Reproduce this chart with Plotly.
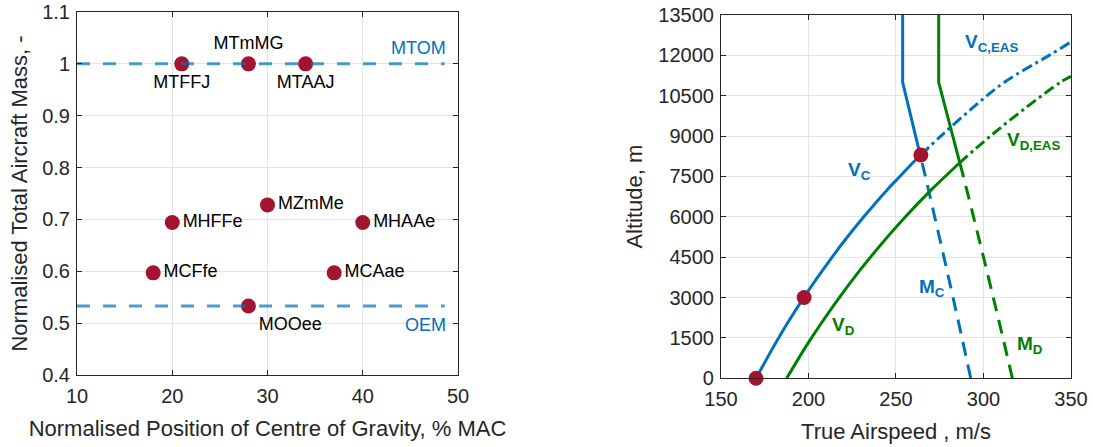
import plotly.graph_objects as go

# ---------------- Left chart data ----------------
cg_pos = [21, 28, 34, 30, 20, 40, 18, 37, 28]
mass_norm = [1.0, 1.0, 1.0, 0.728, 0.694, 0.694, 0.597, 0.597, 0.533]
point_names = ["MTFFJ", "MTmMG", "MTAAJ", "MZmMe", "MHFFe", "MHAAe", "MCFfe", "MCAae", "MOOee"]
name_pos = ["bottom center", "top center", "bottom center", "middle right", "middle right",
            "middle right", "middle right", "middle right", "bottom right"]
mtom_level = 1.0
oem_level = 0.533
ref_line_x = [10, 48.6]

# ---------------- Right chart data ----------------
# V_C (constant EAS) below crossover, TAS in m/s vs altitude in m
vc_alt = [0, 1000, 1500, 2000, 3000, 4000, 4500, 5000, 6000, 7000, 7500, 8000, 8300]
vc_tas = [170, 178.5, 182.9, 187.5, 197.3, 207.9, 213.5, 219.2, 231.6, 244.9, 252.2, 259.5, 264.2]
# V_C,EAS continuation above crossover
vceas_alt = [8300, 9000, 10000, 11000, 12000, 12500]
vceas_tas = [264.2, 275.6, 292.9, 311.9, 337.5, 350]
# M_C line
mc_alt_hi = [8300, 9000, 10000, 11000, 13500]
mc_tas_hi = [263.8, 261.3, 257.6, 253.8, 253.8]
mc_alt_lo = [0, 1500, 3000, 4500, 6000, 7500, 8300]
mc_tas_lo = [292.7, 287.7, 282.6, 277.4, 272.1, 266.8, 263.8]
# V_D
vd_alt = [0, 1000, 1500, 2000, 3000, 4000, 4500, 5000, 6000, 7000, 7500, 8000]
vd_tas = [187.5, 196.8, 201.7, 206.8, 217.6, 229.2, 235.4, 241.8, 255.4, 270.1, 278.1, 286.2]
vdeas_alt = [8000, 9000, 10000, 11000, 11220]
vdeas_tas = [286.2, 303.9, 323.1, 344.0, 350]
# M_D line
md_alt_hi = [8000, 9000, 10000, 11000, 13500]
md_tas_hi = [286.5, 282.5, 278.5, 274.4, 274.4]
md_alt_lo = [0, 1500, 3000, 4500, 6000, 7500, 8000]
md_tas_lo = [316.5, 311.1, 305.6, 300.0, 294.3, 288.5, 286.5]
# highlighted points
pt_tas = [170, 197.5, 264.2]
pt_alt = [0, 3000, 8300]

alt_ticks = [0, 1500, 3000, 4500, 6000, 7500, 9000, 10500, 12000, 13500]
tas_ticks = [150, 200, 250, 300, 350]
cg_ticks = [10, 20, 30, 40, 50]
mass_ticks = [0.4, 0.5, 0.6, 0.7, 0.8, 0.9, 1.0, 1.1]
mass_ticktext = ["0.4", "0.5", "0.6", "0.7", "0.8", "0.9", "1", "1.1"]

BLUE = "#0072BD"
GREEN = "#008000"
RED = "#A2142F"
LIGHTBLUE = "rgba(0,114,189,0.7)"
AX = "#262626"
GRID = "#e3e3e3"
FONT = "Liberation Sans, Arial, Helvetica, sans-serif"

fig = go.Figure()

# left markers
fig.add_trace(go.Scatter(
    x=cg_pos, y=mass_norm, mode="markers+text", text=point_names, textposition=name_pos,
    textfont=dict(size=18, color="black", family=FONT),
    marker=dict(size=15, color=RED), xaxis="x", yaxis="y", showlegend=False, cliponaxis=False))
# reference lines
for lvl in [mtom_level, oem_level]:
    fig.add_trace(go.Scatter(
        x=ref_line_x, y=[lvl, lvl], mode="lines",
        line=dict(color=LIGHTBLUE, width=3, dash="13px,13px"),
        xaxis="x", yaxis="y", showlegend=False))


def add_line(x, y, color, dash, shape="spline"):
    fig.add_trace(go.Scatter(x=x, y=y, mode="lines",
                             line=dict(color=color, width=3, dash=dash, shape=shape),
                             xaxis="x2", yaxis="y2", showlegend=False, cliponaxis=True))


add_line(vc_tas, vc_alt, BLUE, "solid")
add_line(vceas_tas, vceas_alt, BLUE, "11px,4px,3px,4px")
add_line(mc_tas_hi, mc_alt_hi, BLUE, "solid", "linear")
add_line(mc_tas_lo, mc_alt_lo, BLUE, "14px,9px")
add_line(vd_tas, vd_alt, GREEN, "solid")
add_line(vdeas_tas, vdeas_alt, GREEN, "11px,4px,3px,4px")
add_line(md_tas_hi, md_alt_hi, GREEN, "solid", "linear")
add_line(md_tas_lo, md_alt_lo, GREEN, "14px,9px")

fig.add_trace(go.Scatter(x=pt_tas, y=pt_alt, mode="markers", marker=dict(size=15, color=RED),
                         xaxis="x2", yaxis="y2", showlegend=False, cliponaxis=False))

axis_common = dict(showline=True, linecolor=AX, linewidth=1, mirror="ticks", ticks="inside",
                   ticklen=5, tickcolor=AX, showgrid=True, gridcolor=GRID, gridwidth=1,
                   zeroline=False, automargin=False, ticklabeloverflow="allow",
                   tickfont=dict(size=20, color=AX, family=FONT))

fig.update_layout(
    width=1093, height=447, margin=dict(l=0, r=0, t=0, b=0),
    plot_bgcolor="white", paper_bgcolor="white", font=dict(family=FONT, color=AX),
    xaxis=dict(domain=[0.07045, 0.41903], range=[10, 50], tickvals=cg_ticks,
               title=dict(text="Normalised Position of Centre of Gravity, % MAC",
                          font=dict(size=22, color=AX), standoff=14),
               anchor="y", ticklabelstandoff=3, **axis_common),
    yaxis=dict(domain=[0.16107, 0.97315], range=[0.4, 1.1],
               tickvals=mass_ticks, ticktext=mass_ticktext,
               title=dict(text="Normalised Total Aircraft Mass, -",
                          font=dict(size=22, color=AX), standoff=8),
               anchor="x", ticklabelstandoff=2, **axis_common),
    xaxis2=dict(domain=[0.65965, 0.97987], range=[150, 350], tickvals=tas_ticks,
                title=dict(text="True Airspeed , m/s", font=dict(size=22, color=AX), standoff=14),
                anchor="y2", ticklabelstandoff=3, **axis_common),
    yaxis2=dict(domain=[0.15369, 0.96644], range=[0, 13500],
                tickvals=alt_ticks, ticktext=[str(v) for v in alt_ticks],
                title=dict(text="Altitude, m", font=dict(size=22, color=AX), standoff=9),
                anchor="x2", ticklabelstandoff=2, **axis_common),
)

# annotations left
fig.add_annotation(x=48.95, y=1.0306, xref="x", yref="y", text="MTOM", showarrow=False,
                   xanchor="right", yanchor="middle", font=dict(size=18, color=BLUE, family=FONT))
fig.add_annotation(x=48.95, y=0.4964, xref="x", yref="y", text="OEM", showarrow=False,
                   xanchor="right", yanchor="middle", font=dict(size=18, color=BLUE, family=FONT))

# annotations right
right_labels = [
    (288.3, 12451, "V<sub>C,EAS</sub>", BLUE),
    (312.3, 8807, "V<sub>D,EAS</sub>", GREEN),
    (221.4, 7691, "V<sub>C</sub>", BLUE),
    (262.0, 3340, "M<sub>C</sub>", BLUE),
    (212.3, 1926, "V<sub>D</sub>", GREEN),
    (318.0, 1238, "M<sub>D</sub>", GREEN),
]
for x, y, t, c in right_labels:
    fig.add_annotation(x=x, y=y, xref="x2", yref="y2", text="<b>" + t + "</b>", showarrow=False,
                       xanchor="left", yanchor="middle", font=dict(size=19, color=c, family=FONT))

fig.write_html("out.html", config={"displayModeBar": False},
               post_script="document.body.style.margin='0px';")
